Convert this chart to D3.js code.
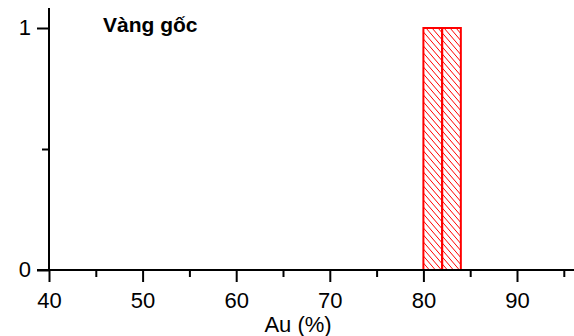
<!DOCTYPE html>
<html><head><meta charset="utf-8">
<script src="https://cdn.jsdelivr.net/npm/d3@7"></script>
<style>body{margin:0;background:#fff}svg{display:block}text{font-family:"Liberation Sans",Arial,sans-serif}</style>
</head><body><svg id="c" width="574" height="336"></svg>
<script>
const binStart = [80, 82];
const binEnd = [82, 84];
const counts = [1, 1];
const xMajor = [40, 50, 60, 70, 80, 90];
const xMinor = [45, 55, 65, 75, 85, 95];
const yMajor = [0, 1];
const yMinor = [0.5];
const title = "Vàng gốc";
const xLabel = "Au (%)";

const svg = d3.select("#c");
const x = d3.scaleLinear().domain([40, 90]).range([49, 517]);
const y = d3.scaleLinear().domain([0, 1]).range([270, 28]);

const defs = svg.append("defs");
const pat = defs.append("pattern").attr("id","hatch").attr("patternUnits","userSpaceOnUse")
  .attr("width",6).attr("height",7);
pat.append("path").attr("d","M0,0 L6,7 M-1,5.83 L1,8.17 M5,-1.17 L7,1.17")
  .attr("stroke","#ff0000").attr("stroke-width",1).attr("fill","none");

// bars
svg.append("g").selectAll("rect").data(counts).join("rect")
  .attr("x",(d,i)=>x(binStart[i]))
  .attr("width",(d,i)=>x(binEnd[i])-x(binStart[i]))
  .attr("y",d=>y(d)).attr("height",d=>y(0)-y(d))
  .attr("fill","url(#hatch)").attr("stroke","#ff0000").attr("stroke-width",2);

// x axis
const xAxis = d3.axisBottom(x).tickValues(xMajor).tickSize(12).tickFormat(d3.format("d"));
const gx = svg.append("g").attr("transform","translate(0,270)").call(xAxis);
gx.select(".domain").remove();
gx.selectAll("line").attr("stroke","#000").attr("stroke-width",2);
gx.selectAll("text").attr("font-size",22).attr("fill","#000").attr("y",38).attr("dy",0)
  .attr("font-family","Liberation Sans, Arial, sans-serif");
const gxm = svg.append("g").attr("transform","translate(0,270)")
  .call(d3.axisBottom(x).tickValues(xMinor).tickSize(7).tickFormat(""));
gxm.select(".domain").remove();
gxm.selectAll("line").attr("stroke","#000").attr("stroke-width",2);
svg.append("line").attr("x1",37).attr("x2",574).attr("y1",270).attr("y2",270)
  .attr("stroke","#000").attr("stroke-width",2);

// y axis
const yAxis = d3.axisLeft(y).tickValues(yMajor).tickSize(12).tickPadding(6).tickFormat(d3.format("d"));
const gy = svg.append("g").attr("transform","translate(49,0)").call(yAxis);
gy.select(".domain").remove();
gy.selectAll("line").attr("stroke","#000").attr("stroke-width",2);
gy.selectAll("text").attr("font-size",22).attr("fill","#000").attr("dy","0.28em")
  .attr("font-family","Liberation Sans, Arial, sans-serif");
const gym = svg.append("g").attr("transform","translate(49,0)")
  .call(d3.axisLeft(y).tickValues(yMinor).tickSize(7).tickFormat(""));
gym.select(".domain").remove();
gym.selectAll("line").attr("stroke","#000").attr("stroke-width",2);
svg.append("line").attr("x1",49).attr("x2",49).attr("y1",8).attr("y2",270)
  .attr("stroke","#000").attr("stroke-width",2);

svg.append("text").attr("x",103).attr("y",32).attr("font-size",21).attr("font-weight","bold").text(title);
svg.append("text").attr("x",298).attr("y",332).attr("text-anchor","middle").attr("font-size",22).text(xLabel);
</script></body></html>
